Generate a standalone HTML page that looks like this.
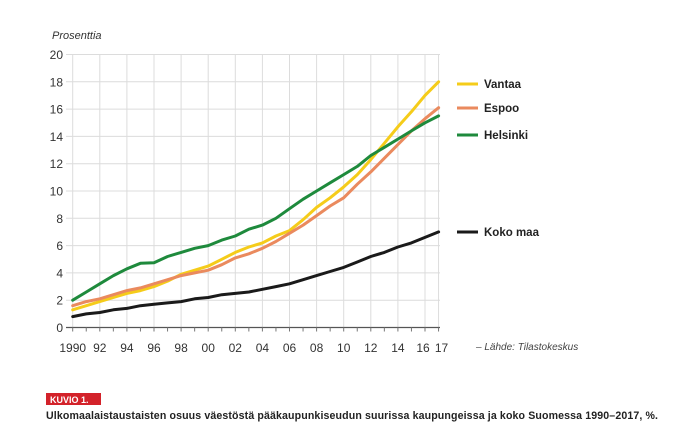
<!DOCTYPE html>
<html><head><meta charset="utf-8"><style>
body{margin:0;background:#fff;width:676px;height:447px;overflow:hidden;font-family:"Liberation Sans",sans-serif;}
svg{position:absolute;left:0;top:0}
</style></head><body>
<svg id="s" width="676" height="447" xmlns="http://www.w3.org/2000/svg" font-family="Liberation Sans, sans-serif">
<text x="52" y="39" font-size="11" font-style="italic" fill="#333">Prosenttia</text>
<g id="grid"></g>
<g id="lines" fill="none" stroke-width="3" stroke-linejoin="round" stroke-linecap="round"></g>
<g font-size="11.5" fill="#222" font-weight="bold">
<line x1="457" y1="84" x2="478" y2="84" stroke="#f5cc1a" stroke-width="3"/><text x="484" y="88">Vantaa</text>
<line x1="457" y1="108" x2="478" y2="108" stroke="#ea8a5e" stroke-width="3"/><text x="484" y="112">Espoo</text>
<line x1="457" y1="135" x2="478" y2="135" stroke="#1e8a3c" stroke-width="3"/><text x="484" y="139">Helsinki</text>
<line x1="457" y1="232" x2="478" y2="232" stroke="#1a1a1a" stroke-width="3"/><text x="484" y="236">Koko maa</text>
</g>
<text x="476" y="350" font-size="10" font-style="italic" fill="#444">– Lähde: Tilastokeskus</text>
<rect x="46" y="393" width="55" height="12" fill="#d3222a"/>
<text x="50" y="403" font-size="9" font-weight="bold" fill="#fff">KUVIO 1.</text>
<text x="46" y="419" font-size="10.6" font-weight="bold" fill="#222" textLength="612" lengthAdjust="spacing">Ulkomaalaistaustaisten osuus väestöstä pääkaupunkiseudun suurissa kaupungeissa ja koko Suomessa 1990–2017, %.</text>
</svg>
<script>
var X0=72.7,DX=13.55,Y0=327.5,DY=13.65,ns="http://www.w3.org/2000/svg";
function x(i){return X0+i*DX}function y(v){return Y0-v*DY}
function el(p,t,a,txt){var e=document.createElementNS(ns,t);for(var k in a)e.setAttribute(k,a[k]);if(txt)e.textContent=txt;p.appendChild(e);return e}
var g=document.getElementById('grid');
for(var v=2;v<=20;v+=2)el(g,'line',{x1:66,x2:440,y1:y(v),y2:y(v),stroke:'#dcdcdc','stroke-width':1});
var yrs=[0,2,4,6,8,10,12,14,16,18,20,22,24,26,27];
yrs.forEach(function(i){el(g,'line',{x1:x(i),x2:x(i),y1:y(20),y2:Y0,stroke:'#dcdcdc','stroke-width':1})});
el(g,'line',{x1:66,x2:440,y1:Y0,y2:Y0,stroke:'#555','stroke-width':1.3});
for(var i=0;i<=27;i++)el(g,'line',{x1:x(i),x2:x(i),y1:Y0,y2:Y0+4,stroke:'#777','stroke-width':1});
for(var v=0;v<=20;v+=2)el(g,'text',{x:63,y:y(v)+4.5,'font-size':12,'text-anchor':'end',fill:'#333'},String(v));
var lab=['1990','92','94','96','98','00','02','04','06','08','10','12','14','16','17'];
yrs.forEach(function(i,k){el(g,'text',{x:x(i)+(k==13?-2:k==14?3:0),y:352,'font-size':12,'text-anchor':'middle',fill:'#333'},lab[k])});
var data={
'#1a1a1a':[0.8,1.0,1.1,1.3,1.4,1.6,1.7,1.8,1.9,2.1,2.2,2.4,2.5,2.6,2.8,3.0,3.2,3.5,3.8,4.1,4.4,4.8,5.2,5.5,5.9,6.2,6.6,7.0],
'#ea8a5e':[1.6,1.9,2.1,2.4,2.7,2.9,3.2,3.5,3.8,4.0,4.2,4.6,5.1,5.4,5.8,6.3,6.9,7.5,8.2,8.9,9.5,10.5,11.4,12.4,13.4,14.4,15.3,16.1],
'#f5cc1a':[1.3,1.6,1.9,2.2,2.5,2.7,3.0,3.4,3.9,4.2,4.5,5.0,5.5,5.9,6.2,6.7,7.1,7.9,8.8,9.5,10.3,11.2,12.3,13.5,14.7,15.8,17.0,18.0],
'#1e8a3c':[2.0,2.6,3.2,3.8,4.3,4.7,4.75,5.2,5.5,5.8,6.0,6.4,6.7,7.2,7.5,8.0,8.7,9.4,10.0,10.6,11.2,11.8,12.6,13.2,13.8,14.4,15.0,15.5]};
var L=document.getElementById('lines');
['#1a1a1a','#f5cc1a','#ea8a5e','#1e8a3c'].forEach(function(c){
 el(L,'polyline',{stroke:c,points:data[c].map(function(v,i){return x(i).toFixed(1)+','+y(v).toFixed(1)}).join(' ')});});
</script>
</body></html>
